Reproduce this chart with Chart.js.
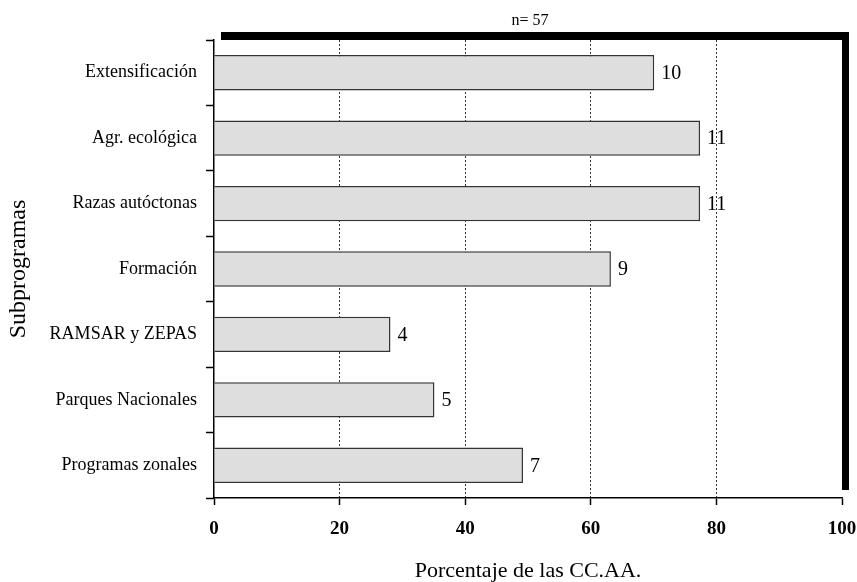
<!DOCTYPE html>
<html>
<head>
<meta charset="utf-8">
<script src="https://cdn.jsdelivr.net/npm/chart.js@4.4.0/dist/chart.umd.min.js"></script>
<style>
  html, body { margin: 0; padding: 0; background: #fff; }
</style>
</head>
<body>
<canvas id="chart" width="857" height="582"></canvas>
<script>
// data
const categories = ['Extensificación', 'Agr. ecológica', 'Razas autóctonas', 'Formación',
                    'RAMSAR y ZEPAS', 'Parques Nacionales', 'Programas zonales'];
const percentages = [70.1, 77.4, 77.4, 63.2, 28.1, 35.1, 49.2];
const counts = [10, 11, 11, 9, 4, 5, 7];
const xTicks = [0, 20, 40, 60, 80, 100];
const sampleLabel = 'n= 57';
const xTitle = 'Porcentaje de las CC.AA.';
const yTitle = 'Subprogramas';

const serif = '"Liberation Serif", "DejaVu Serif", serif';

// black offset frame behind the plot area + the "n=" label
const framePlugin = {
  id: 'frame',
  beforeDraw(chart) {
    const {ctx, chartArea: a} = chart;
    ctx.save();
    ctx.fillStyle = '#000';
    ctx.fillRect(a.left + 7, a.top - 8, a.right - a.left, a.bottom - a.top);
    ctx.fillStyle = '#fff';
    ctx.fillRect(a.left, a.top, a.right - a.left, a.bottom - a.top);
    ctx.restore();
  },
  afterDraw(chart) {
    const {ctx, chartArea: a} = chart;
    ctx.save();
    ctx.fillStyle = '#000';
    ctx.font = '16px ' + serif;
    ctx.textAlign = 'center';
    ctx.textBaseline = 'middle';
    ctx.fillText(sampleLabel, (a.left + a.right) / 2 + 2, 21);
    ctx.restore();
  }
};

// count labels at the end of each bar
const countPlugin = {
  id: 'counts',
  afterDatasetsDraw(chart) {
    const {ctx} = chart;
    const meta = chart.getDatasetMeta(0);
    ctx.save();
    ctx.fillStyle = '#000';
    ctx.font = '20px ' + serif;
    ctx.textAlign = 'left';
    ctx.textBaseline = 'middle';
    meta.data.forEach((bar, i) => {
      ctx.fillText(String(counts[i]), bar.x + 7, bar.y + 1);
    });
    ctx.restore();
  }
};

new Chart(document.getElementById('chart'), {
  type: 'bar',
  data: {
    labels: categories,
    datasets: [{
      data: percentages,
      backgroundColor: '#dedede',
      borderColor: '#333',
      borderWidth: 1.5,
      barPercentage: 0.54,
      categoryPercentage: 1
    }]
  },
  options: {
    indexAxis: 'y',
    responsive: false,
    animation: false,
    layout: { padding: { top: 40, right: 15, left: 0, bottom: 0 } },
    plugins: { legend: { display: false }, tooltip: { enabled: false } },
    scales: {
      x: {
        min: 0,
        max: 100,
        afterBuildTicks: (scale) => { scale.ticks = xTicks.map(v => ({ value: v })); },
        afterFit: (scale) => {
          scale.height = 84;
          scale.paddingLeft = 0;
          scale.paddingRight = 0;
        },
        grid: {
          color: (c) => (c.tick && (c.tick.value === 0 || c.tick.value === 100)) ? 'rgba(0,0,0,0)' : '#333',
          lineWidth: 1,
          tickColor: '#000',
          tickWidth: 1.5,
          tickLength: 7,
          tickBorderDash: []
        },
        border: { color: '#000', width: 1.5, dash: [2, 2] },
        ticks: {
          color: '#000',
          padding: 13,
          maxRotation: 0,
          font: { family: serif, size: 19, weight: 'bold' }
        },
        title: {
          display: true,
          text: xTitle,
          color: '#000',
          font: { family: serif, size: 22, lineHeight: 1 },
          padding: { top: 0, bottom: 0 }
        }
      },
      y: {
        afterFit: (scale) => { scale.width = 214; },
        grid: {
          offset: true,
          drawOnChartArea: false,
          tickColor: '#000',
          tickWidth: 1.5,
          tickLength: 8
        },
        border: { color: '#000', width: 1.5 },
        ticks: {
          color: '#000',
          padding: 9,
          font: { family: serif, size: 18 }
        },
        title: {
          display: true,
          text: yTitle,
          color: '#000',
          font: { family: serif, size: 24 },
          padding: { top: 4, bottom: 0 }
        }
      }
    }
  },
  plugins: [framePlugin, countPlugin]
});
</script>
</body>
</html>
